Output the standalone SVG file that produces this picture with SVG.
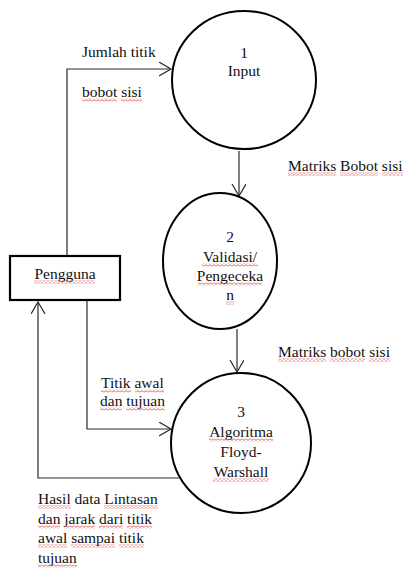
<svg xmlns="http://www.w3.org/2000/svg" width="404" height="569" viewBox="0 0 404 569">
<style>
text{font-family:"Liberation Serif","Times New Roman",Tinos,"DejaVu Serif",serif;font-size:15.5px;fill:#111}
.c{text-anchor:middle}
.node{fill:#fff;stroke:#000;stroke-width:2}
.conn{fill:none;stroke:#2a2a2a;stroke-width:1.2}
.sq{fill:url(#sq)}
</style>
<defs>
<marker id="arr" markerUnits="userSpaceOnUse" markerWidth="14" markerHeight="16" refX="12" refY="7" orient="auto">
<path d="M0,0 L12,7 L0,14" fill="none" stroke="#2a2a2a" stroke-width="1.2"/>
</marker>
<pattern id="sq" width="4" height="3" patternUnits="userSpaceOnUse">
<path d="M0,2.4 L2,0.6 L4,2.4" fill="none" stroke="#d33" stroke-width="0.8"/>
</pattern>
</defs>
<rect width="404" height="569" fill="#fff"/>
<g id="connectors">
<path class="conn" d="M67,256 V69 H171" marker-end="url(#arr)"/>
<path class="conn" d="M239,151 V196" marker-end="url(#arr)"/>
<path class="conn" d="M237,329 V372" marker-end="url(#arr)"/>
<path class="conn" d="M87,301 V429 H171" marker-end="url(#arr)"/>
<path class="conn" d="M179,478 H38 V302" marker-end="url(#arr)"/>
</g>
<g id="p1">
<ellipse class="node" cx="244" cy="80" rx="72" ry="69"/>
<text class="c" x="244" y="58">1</text>
<text class="c" x="244" y="76">Input</text>
</g>
<g id="p2">
<ellipse class="node" cx="220" cy="261" rx="57" ry="68"/>
<text class="c" x="230" y="242">2</text>
<text class="c" x="230" y="262">Validasi/</text>
<text class="c" x="230" y="281">Pengeceka</text>
<text class="c" x="230" y="300">n</text>
<rect class="sq" x="202" y="263.5" width="56" height="3"/>
<rect class="sq" x="198" y="282.5" width="64" height="3"/>
<rect class="sq" x="226" y="301.5" width="8" height="3"/>
</g>
<g id="p3">
<ellipse class="node" cx="241" cy="443" rx="70" ry="70"/>
<text class="c" x="241" y="417">3</text>
<text class="c" x="241" y="437">Algoritma</text>
<text class="c" x="241" y="457">Floyd-</text>
<text class="c" x="241" y="477">Warshall</text>
<rect class="sq" x="209" y="438.5" width="64" height="3"/>
<rect class="sq" x="213" y="478.5" width="56" height="3"/>
</g>
<g id="pengguna">
<rect x="10" y="256" width="110" height="44" fill="#fff" stroke="#000" stroke-width="2.2"/>
<text class="c" x="65" y="279">Pengguna</text>
<rect class="sq" x="34" y="280.5" width="61" height="3"/>
</g>
<g id="labels">
<text x="82" y="57">Jumlah titik</text>
<text x="82" y="97">bobot sisi</text>
<rect class="sq" x="82" y="98.5" width="35" height="3"/>
<rect class="sq" x="121" y="98.5" width="21" height="3"/>
<text x="288" y="171">Matriks Bobot sisi</text>
<rect class="sq" x="288" y="172.5" width="48" height="3"/>
<rect class="sq" x="340" y="172.5" width="38" height="3"/>
<rect class="sq" x="382" y="172.5" width="21" height="3"/>
<text x="278" y="357">Matriks bobot sisi</text>
<rect class="sq" x="278" y="358.5" width="48" height="3"/>
<rect class="sq" x="330" y="358.5" width="35" height="3"/>
<rect class="sq" x="369" y="358.5" width="21" height="3"/>
<text x="101" y="388">Titik awal</text>
<rect class="sq" x="101" y="389.5" width="30" height="3"/>
<rect class="sq" x="135" y="389.5" width="29" height="3"/>
<text x="100" y="406">dan tujuan</text>
<rect class="sq" x="100" y="407.5" width="22" height="3"/>
<rect class="sq" x="126" y="407.5" width="39" height="3"/>
<text x="38" y="504">Hasil data Lintasan</text>
<rect class="sq" x="38" y="505.5" width="33" height="3"/>
<rect class="sq" x="104" y="505.5" width="54" height="3"/>
<text x="38" y="524">dan jarak dari titik</text>
<rect class="sq" x="38" y="525.5" width="22" height="3"/>
<rect class="sq" x="64" y="525.5" width="31" height="3"/>
<rect class="sq" x="99" y="525.5" width="24" height="3"/>
<rect class="sq" x="127" y="525.5" width="25" height="3"/>
<text x="38" y="543">awal sampai titik</text>
<rect class="sq" x="38" y="544.5" width="29" height="3"/>
<rect class="sq" x="71" y="544.5" width="44" height="3"/>
<rect class="sq" x="119" y="544.5" width="25" height="3"/>
<text x="38" y="563">tujuan</text>
<rect class="sq" x="38" y="564.5" width="39" height="3"/>
</g>
</svg>
